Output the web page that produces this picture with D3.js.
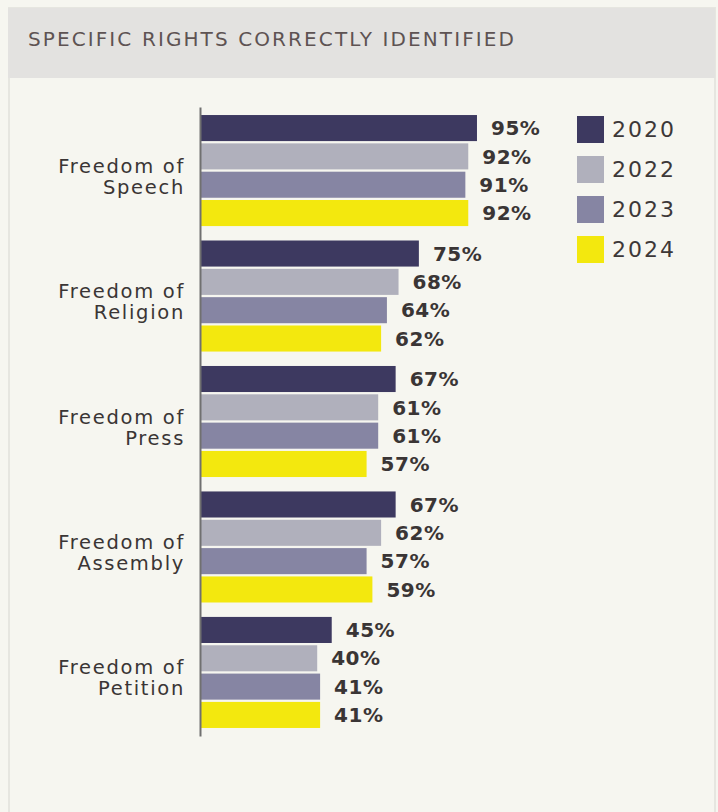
<!DOCTYPE html>
<html>
<head>
<meta charset="utf-8">
<script src="https://cdn.jsdelivr.net/npm/d3@7"></script>
<style>
  html, body { margin: 0; padding: 0; background: #f6f6f0; }
  svg { display: block; }
</style>
</head>
<body>
<div id="chart"></div>
<script>
const categories = ['Freedom of Speech', 'Freedom of Religion', 'Freedom of Press', 'Freedom of Assembly', 'Freedom of Petition'];
const years = ['2020', '2022', '2023', '2024'];
const values2020 = [95, 75, 67, 67, 45];
const values2022 = [92, 68, 61, 62, 40];
const values2023 = [91, 64, 61, 57, 41];
const values2024 = [92, 62, 57, 59, 41];
const colors = ['#3d3960', '#b0b0bc', '#8685a3', '#f3e80e'];

const series = [values2020, values2022, values2023, values2024];
const rows = categories.map((c, i) => ({
  category: c,
  bars: years.map((y, j) => ({year: y, value: series[j][i]}))
}));

const width = 718;
const height = 812;

const svg = d3.select('#chart').append('svg')
  .attr('width', width)
  .attr('height', height);

// panel
svg.append('rect')
  .attr('x', 9).attr('y', 8)
  .attr('width', 706).attr('height', 820)
  .attr('fill', '#f6f6f0')
  .attr('stroke', '#e6e6e0')
  .attr('stroke-width', 2);

svg.append('rect')
  .attr('x', 8).attr('y', 8)
  .attr('width', 707).attr('height', 70)
  .attr('fill', '#e3e2e0');

svg.append('text')
  .attr('x', 28).attr('y', 46)
  .attr('font-family', 'DejaVu Sans, sans-serif')
  .attr('font-size', 20)
  .attr('letter-spacing', 2.1)
  .attr('fill', '#5e5353')
  .text('SPECIFIC RIGHTS CORRECTLY IDENTIFIED');

const x = d3.scaleLinear().domain([0, 100]).range([201, 491.5]);

const yGroup = d3.scaleBand()
  .domain(categories)
  .range([107, 736])
  .paddingInner(0.115)
  .paddingOuter(0.064);

const yBar = d3.scaleBand()
  .domain(years)
  .range([0, yGroup.bandwidth()])
  .paddingInner(0.08);

const color = d3.scaleOrdinal().domain(years).range(colors);

const groups = svg.append('g').selectAll('g')
  .data(rows)
  .join('g')
  .attr('transform', d => `translate(0,${yGroup(d.category)})`);

groups.selectAll('rect')
  .data(d => d.bars)
  .join('rect')
  .attr('x', x(0))
  .attr('y', d => yBar(d.year))
  .attr('width', d => x(d.value) - x(0))
  .attr('height', yBar.bandwidth())
  .attr('fill', d => color(d.year));

groups.selectAll('text.value')
  .data(d => d.bars)
  .join('text')
  .attr('class', 'value')
  .attr('x', d => x(d.value) + 14)
  .attr('y', d => yBar(d.year) + yBar.bandwidth() / 2)
  .attr('dy', '0.36em')
  .attr('font-family', 'DejaVu Sans, sans-serif')
  .attr('font-weight', 'bold')
  .attr('font-size', 20)
  .attr('letter-spacing', 0.5)
  .attr('fill', '#3a3535')
  .text(d => d.value + '%');

// category labels (two lines)
const labels = groups.append('text')
  .attr('text-anchor', 'end')
  .attr('font-family', 'DejaVu Sans, sans-serif')
  .attr('font-size', 19.5)
  .attr('letter-spacing', 1.7)
  .attr('fill', '#3a3535');

labels.append('tspan')
  .attr('x', 185)
  .attr('y', yGroup.bandwidth() / 2 - 5)
  .attr('dy', '0.36em')
  .text('Freedom of');

labels.append('tspan')
  .attr('x', 185)
  .attr('y', yGroup.bandwidth() / 2 + 16)
  .attr('dy', '0.36em')
  .text(d => d.category.replace('Freedom of ', ''));

// axis line
const yAxis = d3.axisLeft(d3.scaleLinear().range([107, 736])).ticks(0).tickSize(0);
svg.append('g')
  .attr('transform', `translate(${x(0) - 1},0)`)
  .call(yAxis)
  .call(g => g.select('.domain').attr('stroke', '#707070').attr('stroke-width', 2));

// legend
const legend = svg.append('g').selectAll('g')
  .data(years)
  .join('g')
  .attr('transform', (d, i) => `translate(577,${116 + i * 40})`);

legend.append('rect')
  .attr('width', 27)
  .attr('height', 27)
  .attr('fill', d => color(d));

legend.append('text')
  .attr('x', 35)
  .attr('y', 13.5)
  .attr('dy', '0.36em')
  .attr('font-family', 'DejaVu Sans, sans-serif')
  .attr('font-size', 22)
  .attr('letter-spacing', 2)
  .attr('fill', '#3d3838')
  .text(d => d);
</script>
</body>
</html>
